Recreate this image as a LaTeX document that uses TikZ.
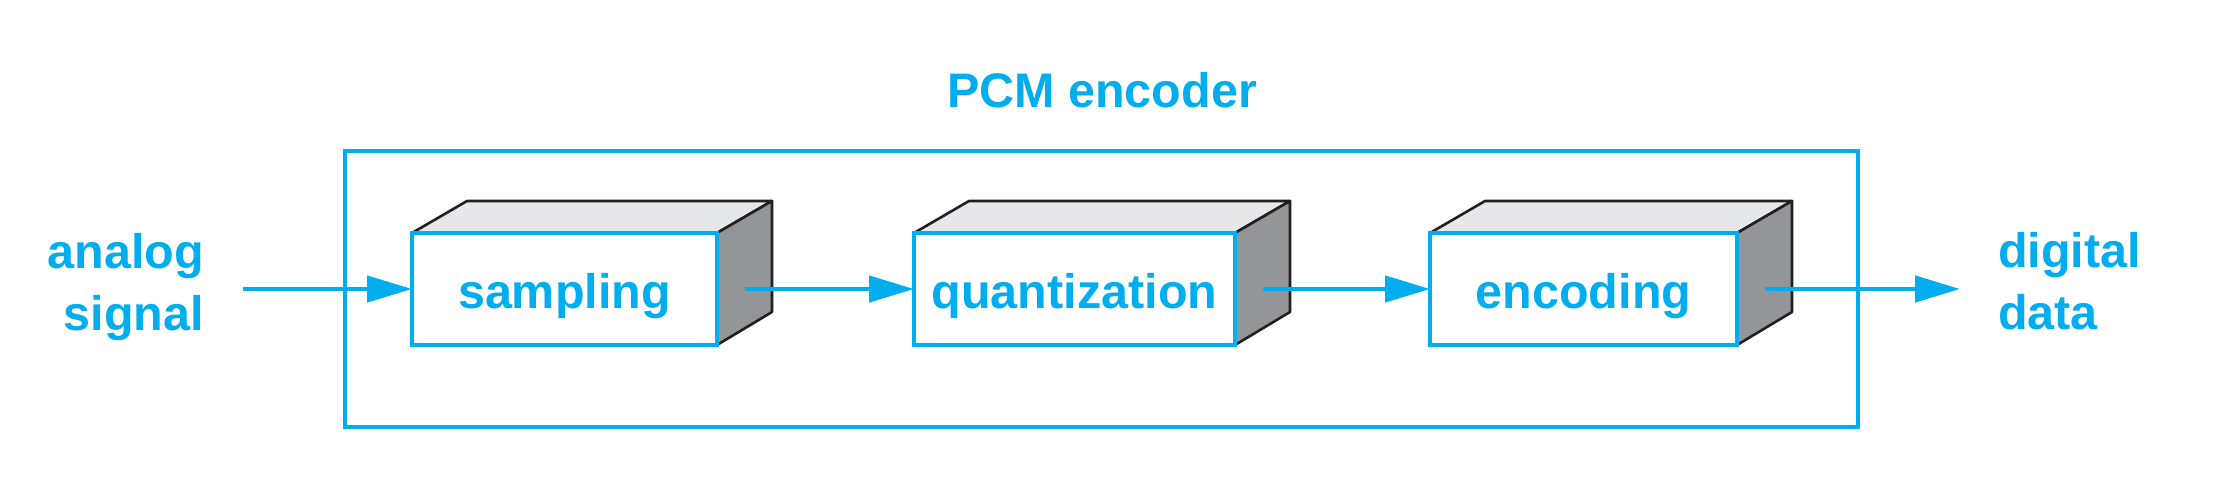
\documentclass[tikz,border=0pt]{standalone}
\usepackage{fontspec}
\setmainfont{Liberation Sans}
\usetikzlibrary{arrows.meta,backgrounds,calc}
\definecolor{pcmblue}{HTML}{00AEEF}
\definecolor{topgray}{HTML}{E6E7E8}
\definecolor{sidegray}{HTML}{939598}
\definecolor{edgeblack}{HTML}{231F20}
\tikzset{
  front/.style={draw=pcmblue, line width=4pt, fill=white, inner sep=0pt, outer sep=0pt, anchor=north west},
  topface/.style={fill=topgray, draw=edgeblack, line width=2.6pt, line join=round},
  sideface/.style={fill=sidegray, draw=edgeblack, line width=2.6pt, line join=round},
  lbl/.style={text=pcmblue, font=\fontsize{48.5}{58}\selectfont\bfseries, inner sep=0pt},
  frame/.style={draw=pcmblue, line width=4pt},
  flow/.style={draw=pcmblue, line width=4.5pt, -{Triangle[length=45pt,width=26pt]}},
}
\newcommand{\cubebox}[5]{% name, x1, x2, text-name, text
  \node[front, minimum width=#3pt-#2pt, minimum height=112pt] (#1) at (#2,233) {};
  \begin{pgfonlayer}{background}
    \draw[topface] (#1.north west) -- ++(55,-32) -- ($(#1.north east)+(55,-32)$) -- (#1.north east) -- cycle;
    \draw[sideface] (#1.north east) -- ++(55,-32) -- ($(#1.south east)+(55,-33)$) -- (#1.south east) -- cycle;
  \end{pgfonlayer}
  \coordinate (#1side) at ($(#1.east)+(28,0)$);
  \node[lbl, anchor=base] (#4) at ($(#1.center)+(0,19)$) {#5};
}
\begin{document}
\begin{tikzpicture}[x=1pt, y=-1pt]
\useasboundingbox (0,0) rectangle (2223,479);
\node[lbl, anchor=base] (title) at (1102,107) {PCM encoder};
\draw[frame] (345,151) rectangle (1858,427);
\cubebox{b1}{412}{717}{t1}{sampling}
\cubebox{b2}{914}{1235}{t2}{quantization}
\cubebox{b3}{1430}{1737}{t3}{encoding}
\node[lbl, anchor=base east] (in1) at (204,268) {analog};
\node[lbl, anchor=base east] (in2) at (204,330) {signal};
\node[lbl, anchor=base west] (out1) at (1998,267) {digital};
\node[lbl, anchor=base west] (out2) at (1998,329) {data};
\coordinate (src) at (243,289);
\coordinate (dst) at (1960,289);
\draw[flow] (src) -- (b1.west);
\draw[flow] (b1side) -- (b2.west);
\draw[flow] (b2side) -- (b3.west);
\draw[flow] (b3side) -- (dst);
\end{tikzpicture}
\end{document}
